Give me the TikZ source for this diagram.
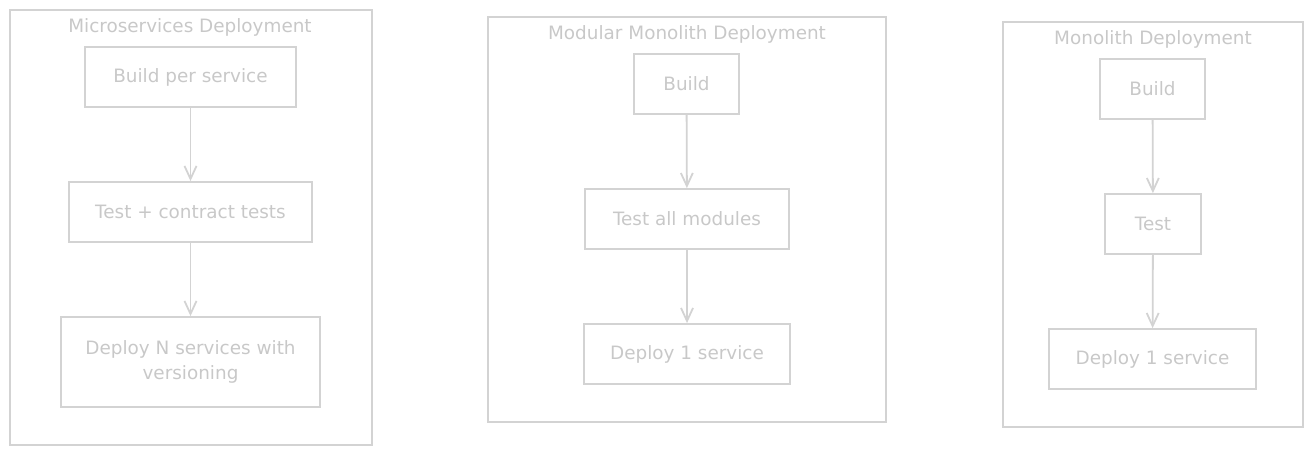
\documentclass[tikz,border=0pt]{standalone}
\usepackage{fontspec}
\setmainfont{DejaVu Sans}
\usetikzlibrary{arrows.meta}
\definecolor{ln}{RGB}{211,211,211}
\definecolor{tx}{RGB}{200,200,200}
\begin{document}
\begin{tikzpicture}[x=1pt,y=-1pt,
  stepbox/.style={draw=ln,line width=1.8pt,text=tx,font=\fontsize{18.4}{25}\selectfont,align=center,inner sep=0pt},
  cluster/.style={draw=ln,line width=1.8pt},
  ttl/.style={text=tx,font=\fontsize{18.4}{25}\selectfont,inner sep=0pt},
  conn/.style={draw=ln,line width=1.8pt,-{Straight Barb[length=13pt,width=12pt,line width=1.8pt]}}]
\useasboundingbox (0,0) rectangle (1313,455);
% cluster 1
\node[cluster,minimum width=362pt,minimum height=435pt] (c1) at (191,227.5) {};
\node[ttl] (t1) at (190,27) {Microservices Deployment};
\node[stepbox,minimum width=211pt,minimum height=60pt] (a1) at (190.5,77) {Build per service};
\node[stepbox,minimum width=243pt,minimum height=60pt] (a2) at (190.5,212) {Test + contract tests};
\node[stepbox,minimum width=259pt,minimum height=90pt] (a3) at (190.5,362) {Deploy N services with\\versioning};
\draw[conn] (a1) -- (a2);
\draw[conn] (a2) -- (a3);
% cluster 2
\node[cluster,minimum width=398pt,minimum height=405pt] (c2) at (687,219.5) {};
\node[ttl] (t2) at (687,34) {Modular Monolith Deployment};
\node[stepbox,minimum width=105pt,minimum height=60pt] (b1) at (686.5,84) {Build};
\node[stepbox,minimum width=204pt,minimum height=60pt] (b2) at (687,219) {Test all modules};
\node[stepbox,minimum width=206pt,minimum height=60pt] (b3) at (687,354) {Deploy 1 service};
\draw[conn] (b1) -- (b2);
\draw[conn] (b2) -- (b3);
% cluster 3
\node[cluster,minimum width=300pt,minimum height=405pt] (c3) at (1153,224.5) {};
\node[ttl] (t3) at (1153,39) {Monolith Deployment};
\node[stepbox,minimum width=105pt,minimum height=60pt] (d1) at (1152.5,89) {Build};
\node[stepbox,minimum width=96pt,minimum height=60pt] (d2) at (1153,224) {Test};
\node[stepbox,minimum width=207pt,minimum height=60pt] (d3) at (1152.5,359) {Deploy 1 service};
\draw[conn] (d1) -- (d2);
\draw[conn] (d2) -- (d3);
\end{tikzpicture}
\end{document}
